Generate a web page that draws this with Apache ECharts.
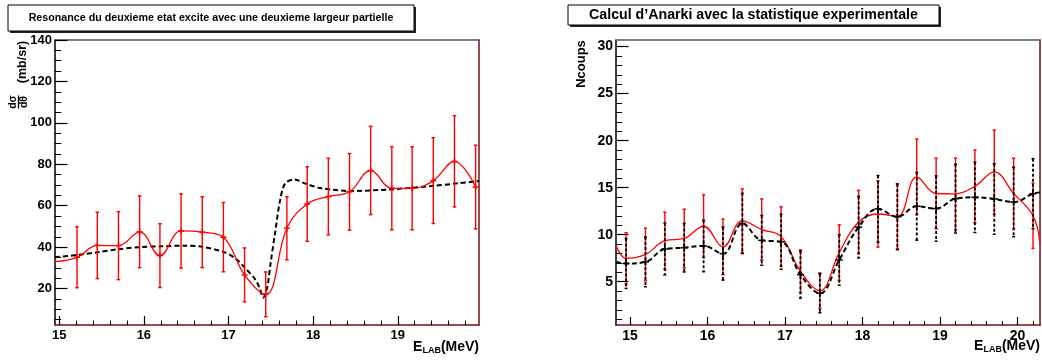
<!DOCTYPE html>
<html><head><meta charset="utf-8">
<script src="https://cdn.jsdelivr.net/npm/echarts@6/dist/echarts.min.js"></script>
<style>html,body{margin:0;padding:0;background:#fff}#c{width:1042px;height:360px}</style>
</head><body><div id="c"></div>
<script>
// ---------- Data: left panel ----------
const titleLeft = "Resonance du deuxieme etat excite avec une deuxieme largeur partielle";
const energyL = [15.21,15.45,15.70,15.95,16.19,16.44,16.69,16.94,17.19,17.44,17.69,17.93,18.18,18.43,18.68,18.93,19.17,19.42,19.67,19.92];
const valueL  = [35.1,40.8,40.7,47.4,35.9,47.8,47.2,44.8,26.6,17.2,49.1,60.8,64.4,66.7,77.0,68.4,68.4,72.1,81.4,69.0];
const errorL  = [14.7,16.0,16.4,17.3,15.4,17.9,17.1,16.7,13.0,10.8,15.2,18.0,18.5,18.5,21.3,20.0,20.0,20.7,22.0,20.2];
const curveStartL = [14.95, 33.0];
const modelL = [[14.95,35.1],[15.21,36.2],[15.45,37.5],[15.70,39.0],[15.95,40.0],[16.21,40.4],[16.49,40.7],[16.70,40.1],[16.94,37.7],[17.08,34.6],[17.19,30.2],[17.32,24.2],[17.37,20.0],[17.41,15.6],[17.46,21.0],[17.50,33.0],[17.55,46.7],[17.61,62.7],[17.67,70.8],[17.78,72.7],[17.90,70.8],[18.10,68.4],[18.45,67.1],[18.93,67.9],[19.40,69.5],[19.71,70.8],[19.96,71.9]];
const yMajorL = [20,40,60,80,100,120,140];
const yMinorL = [5,10,15,25,30,35,45,50,55,65,70,75,85,90,95,105,110,115,125,130,135];
const xMajorL = [15,16,17,18,19];
const xMinorL = [15.2,15.4,15.6,15.8,16.2,16.4,16.6,16.8,17.2,17.4,17.6,17.8,18.2,18.4,18.6,18.8,19.2,19.4,19.6,19.8];

// ---------- Data: right panel ----------
const titleRight = "Calcul d\u2019Anarki avec la statistique experimentale";
const energyR = [14.95,15.20,15.45,15.70,15.95,16.20,16.45,16.70,16.95,17.20,17.45,17.70,17.95,18.20,18.45,18.70,18.95,19.20,19.45,19.70,19.95,20.20];
const blackR  = [6.94,7.11,8.48,8.62,8.80,7.99,11.2,9.40,9.25,5.75,3.78,7.32,10.8,12.74,11.9,13.02,12.78,13.83,13.97,13.80,13.48,14.36];
const blackErrR = [2.65,2.64,2.76,2.58,2.73,2.82,3.20,2.65,2.93,2.50,2.08,2.68,3.27,3.55,3.49,3.60,3.47,3.65,3.73,3.75,3.70,3.72];
const redR    = [7.48,7.90,9.36,9.60,10.9,8.70,11.48,10.55,9.80,6.10,4.05,8.10,11.35,12.20,11.95,16.15,14.38,14.35,15.14,16.67,14.38,12.02];
const redErrR = [2.73,2.80,3.03,3.11,3.33,2.96,3.38,3.25,3.17,2.29,1.88,2.95,3.36,3.52,3.45,4.02,3.75,3.79,3.87,4.45,3.75,3.47];
const redEdgesR = [[14.82,8.87],[20.29,9.08]];
const blackEdgesR = [[14.82,7.10],[20.29,14.50]];
const yMajorR = [5,10,15,20,25,30];
const yMinorR = [1,2,3,4,6,7,8,9,11,12,13,14,16,17,18,19,21,22,23,24,26,27,28,29];
const xMajorR = [15,16,17,18,19,20];
const xMinorR = [15.2,15.4,15.6,15.8,16.2,16.4,16.6,16.8,17.2,17.4,17.6,17.8,18.2,18.4,18.6,18.8,19.2,19.4,19.6,19.8,20.2];

// ---------- Rendering ----------
const FONT = "'Liberation Sans', Arial, sans-serif";
const RED = '#ff0000';
const FRAME_RED = '#701010';

function zip3(xs, ys, es) { return xs.map((x,i)=>[x, ys[i], es[i]]); }
function zip2(xs, ys) { return xs.map((x,i)=>[x, ys[i]]); }

function errRender(color, dashed, lw, capW, crossW) {
  return function(params, api) {
    const x = api.value(0), y = api.value(1), e = api.value(2);
    const t = api.coord([x, y + e]), b = api.coord([x, y - e]), c = api.coord([x, y]);
    const ch = [
      {type:'line', shape:{x1:t[0],y1:t[1],x2:b[0],y2:b[1]}, style:{stroke:color,lineWidth:lw,lineDash:dashed?[3,2]:null}},
      {type:'line', shape:{x1:t[0]-capW,y1:t[1],x2:t[0]+capW,y2:t[1]}, style:{stroke:color,lineWidth:1.5}},
      {type:'line', shape:{x1:b[0]-capW,y1:b[1],x2:b[0]+capW,y2:b[1]}, style:{stroke:color,lineWidth:1.5}}
    ];
    if (crossW > 0) {
      ch.push({type:'line', shape:{x1:c[0]-crossW,y1:c[1],x2:c[0]+crossW,y2:c[1]}, style:{stroke:color,lineWidth:1.5}});
      ch.push({type:'line', shape:{x1:c[0],y1:c[1]-crossW,x2:c[0],y2:c[1]+crossW}, style:{stroke:color,lineWidth:1.5}});
    }
    return {type:'group', children: ch};
  };
}

function axesFor(g, xmin, xmax, ymin, ymax, xMaj, xMin, yMaj, yMin, fs, xTickLen, yTickLen) {
  const lab = {fontFamily:FONT, fontWeight:'bold', fontSize:fs, color:'#000'};
  const xs = [
    {type:'value', gridIndex:g, min:xmin, max:xmax, position:'bottom',
     axisLine:{show:true, lineStyle:{color:FRAME_RED, width:1.5}},
     axisTick:{show:true, inside:true, length:xTickLen, customValues:xMaj, lineStyle:{color:'#000', width:1.2}},
     axisLabel:{show:true, customValues:xMaj, margin:4, ...lab, showMinLabel:true, showMaxLabel:true},
     splitLine:{show:false}},
    {type:'value', gridIndex:g, min:xmin, max:xmax, position:'bottom',
     axisLine:{show:false},
     axisTick:{show:true, inside:true, length:xTickLen/2, customValues:xMin, lineStyle:{color:'#000', width:1}},
     axisLabel:{show:false}, splitLine:{show:false}},
    {type:'value', gridIndex:g, min:xmin, max:xmax, position:'top',
     axisLine:{show:true, lineStyle:{color:'#555', width:1.5}},
     axisTick:{show:false}, axisLabel:{show:false}, splitLine:{show:false}}
  ];
  const ys = [
    {type:'value', gridIndex:g, min:ymin, max:ymax, position:'left',
     axisLine:{show:true, lineStyle:{color:'#000', width:1.5}},
     axisTick:{show:true, inside:true, length:yTickLen, customValues:yMaj, lineStyle:{color:'#000', width:1.2}},
     axisLabel:{show:true, customValues:yMaj, margin:3, ...lab},
     splitLine:{show:false}},
    {type:'value', gridIndex:g, min:ymin, max:ymax, position:'left',
     axisLine:{show:false},
     axisTick:{show:true, inside:true, length:yTickLen/2, customValues:yMin, lineStyle:{color:'#000', width:1}},
     axisLabel:{show:false}, splitLine:{show:false}},
    {type:'value', gridIndex:g, min:ymin, max:ymax, position:'right',
     axisLine:{show:true, lineStyle:{color:FRAME_RED, width:1.5}},
     axisTick:{show:false}, axisLabel:{show:false}, splitLine:{show:false}}
  ];
  return {xs, ys};
}

const A = axesFor(0, 14.95, 19.96, 2.4, 140, xMajorL, xMinorL, yMajorL, yMinorL, 13, 9, 12.5);
const B = axesFor(1, 14.82, 20.29, 0.4, 30.7, xMajorR, xMinorR, yMajorR, yMinorR, 14, 8, 12.5);

function titleBox(x, y, w, h, text, fs) {
  return {type:'group', children:[
    {type:'rect', shape:{x:x+2, y:y+2, width:w, height:h}, style:{fill:'#222'}, z:1},
    {type:'rect', shape:{x:x, y:y, width:w, height:h}, style:{fill:'#fff', stroke:'#000', lineWidth:1}, z:2},
    {type:'text', x:x+w/2, y:y+h/2, z:3, style:{text:text, fill:'#000', font:'bold '+fs+'px '+FONT, align:'center', verticalAlign:'middle'}}
  ]};
}

function elab(xRight, yMid, fs) {
  return {type:'text', x:xRight, y:yMid, style:{
    text:'{n|E}{s|LAB}{n|(MeV)}', align:'right', verticalAlign:'middle',
    rich:{n:{font:'bold '+fs+'px '+FONT, fill:'#000'}, s:{font:'bold '+Math.round(fs*0.62)+'px '+FONT, fill:'#000', padding:[fs*0.55,0,0,0]}}
  }};
}

const option = {
  animation:false,
  backgroundColor:'#fff',
  grid:[
    {left:55, top:40, width:424, height:285, containLabel:false},
    {left:616, top:40, width:424, height:285, containLabel:false}
  ],
  xAxis:[...A.xs, ...B.xs],
  yAxis:[...A.ys, ...B.ys],
  graphic:[
    titleBox(8, 5, 406, 26, titleLeft, 10.7),
    titleBox(568, 5, 371, 20, titleRight, 14.2),
    elab(479, 347, 14),
    elab(1040, 346, 14),
    {type:'text', x:23, y:62, rotation:Math.PI/2, style:{text:'(mb/sr)', font:'bold 12.5px '+FONT, fill:'#000', align:'center', verticalAlign:'middle'}},
    {type:'text', x:13.5, y:102, rotation:Math.PI/2, style:{text:'d\u03c3', font:'bold 10.5px '+FONT, fill:'#000', align:'center', verticalAlign:'middle'}},
    {type:'line', shape:{x1:18.5,y1:95.5,x2:18.5,y2:108.5}, style:{stroke:'#000', lineWidth:1.3}},
    {type:'text', x:23.8, y:102, rotation:Math.PI/2, style:{text:'d\u03b8', font:'bold 10.5px '+FONT, fill:'#000', align:'center', verticalAlign:'middle'}},
    {type:'text', x:581, y:64, rotation:Math.PI/2, style:{text:'Ncoups', font:'bold 13px '+FONT, fill:'#000', align:'center', verticalAlign:'middle'}}
  ],
  series:[
    // left panel
    {type:'line', xAxisIndex:0, yAxisIndex:0, data:modelL, smooth:0.3, showSymbol:false, symbol:'none',
     lineStyle:{color:'#000', width:2, type:[5,3]}, z:2, clip:true},
    {type:'line', xAxisIndex:0, yAxisIndex:0, data:[curveStartL, ...zip2(energyL, valueL)], smooth:0.4, symbol:'none',
     lineStyle:{color:RED, width:1.3}, z:3, clip:true},
    {type:'custom', xAxisIndex:0, yAxisIndex:0, data:zip3(energyL, valueL, errorL),
     renderItem:errRender(RED, false, 1.4, 1.8, 3), z:4, clip:true},
    // right panel
    {type:'line', xAxisIndex:3, yAxisIndex:3, data:[redEdgesR[0], ...zip2(energyR, redR), redEdgesR[1]], smooth:0.4, symbol:'none',
     lineStyle:{color:RED, width:1.3}, z:2, clip:true},
    {type:'custom', xAxisIndex:3, yAxisIndex:3, data:zip3(energyR, redR, redErrR),
     renderItem:errRender(RED, false, 1.4, 1.6, 0), z:3, clip:true},
    {type:'custom', xAxisIndex:3, yAxisIndex:3, data:zip3(energyR, blackR, blackErrR),
     renderItem:errRender('#000', true, 1.8, 1.5, 3.5), z:4, clip:true},
    {type:'line', xAxisIndex:3, yAxisIndex:3, data:[blackEdgesR[0], ...zip2(energyR, blackR), blackEdgesR[1]], smooth:0.4, symbol:'none',
     lineStyle:{color:'#000', width:2, type:[5,3]}, z:5, clip:true}
  ]
};

const chart = echarts.init(document.getElementById('c'), null, {renderer:'canvas'});
chart.setOption(option);
</script>
</body></html>
